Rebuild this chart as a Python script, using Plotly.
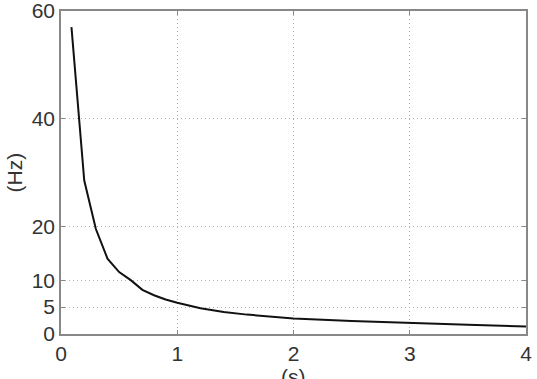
import plotly.graph_objects as go

t = [0.09, 0.2, 0.3, 0.4, 0.5, 0.6, 0.7, 0.8, 0.9, 1.0, 1.2, 1.4, 1.6, 1.8, 2.0, 2.5, 3.0, 3.5, 4.0]
f = [57, 28.5, 19.5, 14, 11.5, 10, 8.2, 7.2, 6.4, 5.8, 4.8, 4.1, 3.6, 3.2, 2.9, 2.4, 2.0, 1.7, 1.4]
xticks = [0, 1, 2, 3, 4]
yticks = [0, 5, 10, 20, 40, 60]

fig = go.Figure()
fig.add_trace(go.Scatter(x=t, y=f, mode="lines", line=dict(color="#111111", width=2), showlegend=False))

axis_common = dict(
    showline=True, linecolor="#888888", linewidth=1.5, mirror="ticks",
    ticks="inside", ticklen=4, tickcolor="#888888",
    showgrid=True, gridcolor="#b0b0b0", griddash="1px,3px", gridwidth=1,
    zeroline=False, automargin=False, ticklabeloverflow="allow",
    tickfont=dict(family="Liberation Sans, Arial", size=21, color="#333333"),
)
fig.update_xaxes(range=[0, 4], tickvals=xticks, **axis_common)
fig.update_yaxes(range=[0, 60], tickvals=yticks, **axis_common)

fig.add_annotation(text="(s)", xref="paper", yref="paper", x=0.5, y=-0.09, yanchor="top", xanchor="center",
                   showarrow=False, font=dict(family="Liberation Sans, Arial", size=21, color="#333333"))
fig.add_annotation(text="(Hz)", xref="paper", yref="paper", x=-0.099, y=0.5, textangle=-90,
                   xanchor="center", yanchor="middle",
                   showarrow=False, font=dict(family="Liberation Sans, Arial", size=21, color="#333333"))

fig.update_layout(
    width=537, height=379,
    margin=dict(l=61, r=11, t=11, b=45),
    paper_bgcolor="white", plot_bgcolor="white",
)
fig.write_html("out.html")
